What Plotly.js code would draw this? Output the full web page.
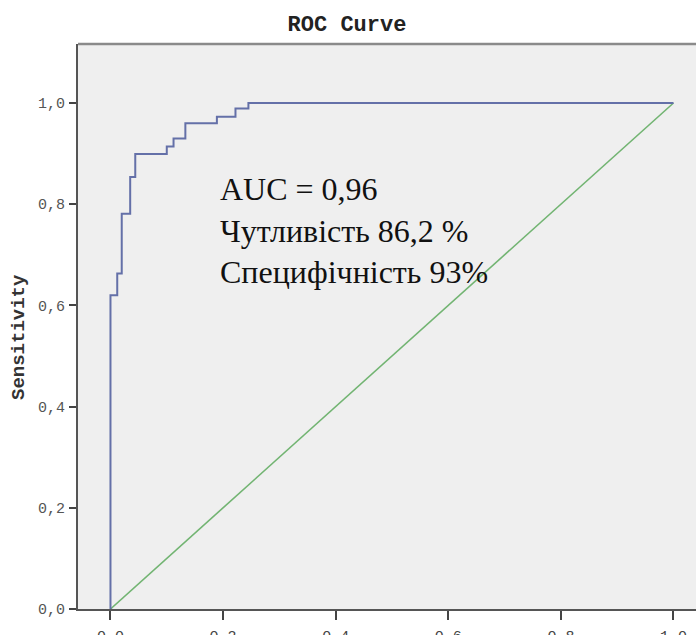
<!DOCTYPE html>
<html>
<head>
<meta charset="utf-8">
<script src="https://cdn.plot.ly/plotly-3.0.1.min.js"></script>
<style>html,body{margin:0;padding:0;background:#fff;}#chart{width:696px;height:635px;}</style>
</head>
<body>
<div id="chart"></div>
<script>
// ROC curve points (1 - specificity, sensitivity), step path drawn with 'vh'
var fpr = [0, 0.012, 0.020, 0.035, 0.044, 0.100, 0.112, 0.133, 0.189, 0.222, 0.245, 1.0];
var tpr = [0, 0.620, 0.663, 0.781, 0.854, 0.899, 0.914, 0.930, 0.960, 0.973, 0.989, 1.0];
// Reference (chance) line
var refX = [0, 1];
var refY = [0, 1];
// Tick values and labels
var xTickVals = [0, 0.2, 0.4, 0.6, 0.8, 1.0];
var xTickLabels = ["0.0", "0.2", "0.4", "0.6", "0.8", "1.0"];
var yTickVals = [0, 0.2, 0.4, 0.6, 0.8, 1.0];
var yTickLabels = ["0,0", "0,2", "0,4", "0,6", "0,8", "1,0"];
var titleText = "ROC Curve";
var yTitleText = "Sensitivity";
var noteLines = ["AUC = 0,96", "Чутливість 86,2 %", "Специфічність 93%"];

var mono = "Liberation Mono, Courier New, monospace";

var traces = [
  {x: refX, y: refY, type: "scatter", mode: "lines",
   line: {color: "#72b472", width: 1.6}, hoverinfo: "skip"},
  {x: fpr, y: tpr, type: "scatter", mode: "lines",
   line: {color: "#6470a8", width: 2, shape: "vh"}, hoverinfo: "skip"}
];

var layout = {
  width: 696, height: 635,
  margin: {l: 78, r: 0, t: 44, b: 26, pad: 0},
  paper_bgcolor: "#ffffff",
  plot_bgcolor: "#efefef",
  showlegend: false,
  title: {text: "<b>" + titleText + "</b>", x: 347 / 696, xref: "container", xanchor: "center",
          y: 1 - 23 / 635, yref: "container", yanchor: "middle",
          font: {family: mono, size: 22, color: "#222"}},
  xaxis: {range: [-0.0577, 1.04], showgrid: false, zeroline: false,
          showline: true, linecolor: "#555", linewidth: 2,
          ticks: "outside", ticklen: 9, tickwidth: 2, tickcolor: "#444",
          tickvals: xTickVals, ticktext: xTickLabels, ticklabelstandoff: 3,
          tickfont: {family: mono, size: 15, color: "#444"}},
  yaxis: {range: [0, 1.1166], showgrid: false, zeroline: false,
          showline: true, linecolor: "#555", linewidth: 2,
          ticks: "outside", ticklen: 7, tickwidth: 2, tickcolor: "#444",
          tickvals: yTickVals, ticktext: yTickLabels, ticklabelstandoff: 1,
          tickfont: {family: mono, size: 15, color: "#555"}},
  shapes: [
    {type: "line", xref: "paper", yref: "paper", x0: 0, x1: 1, y0: 1, y1: 1,
     line: {color: "#8a8a8a", width: 2.5}}
  ],
  annotations: [
    {xref: "x", yref: "y", x: 0.191, y: 0.87, xanchor: "left", yanchor: "top",
     align: "left", showarrow: false,
     text: noteLines.join("<br>"),
     font: {family: "Liberation Serif, Times New Roman, serif", size: 32, color: "#111"}},
    {xref: "paper", yref: "paper", x: -59 / 618, y: (609 - 337) / 565,
     xanchor: "center", yanchor: "middle", textangle: -90, showarrow: false,
     text: "<b>" + yTitleText + "</b>",
     font: {family: mono, size: 19, color: "#333"}}
  ]
};

Plotly.newPlot("chart", traces, layout, {displayModeBar: false, staticPlot: true});
</script>
</body>
</html>
